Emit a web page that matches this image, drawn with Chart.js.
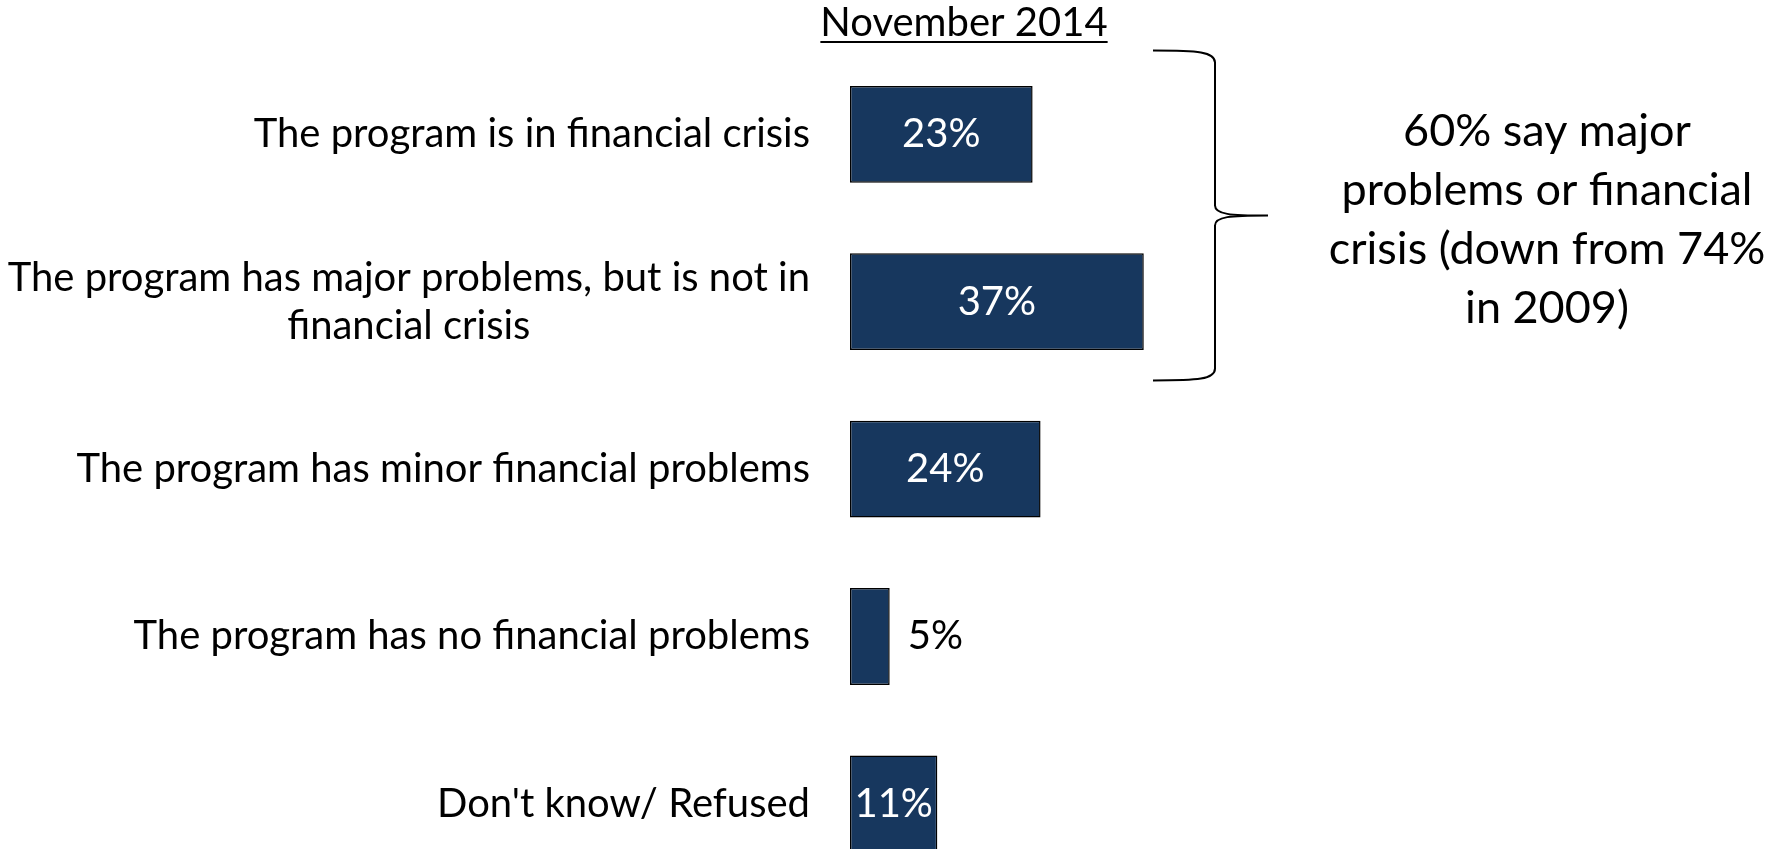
<!DOCTYPE html>
<html>
<head>
<meta charset="utf-8">
<script src="https://cdn.jsdelivr.net/npm/chart.js@4.4.0/dist/chart.umd.min.js"></script>
<style>
  html, body { margin: 0; padding: 0; background: #fff; overflow: hidden; }
  canvas { display: block; }
</style>
</head>
<body>
<canvas id="survey-chart" width="1783" height="900"></canvas>
<script>
// Survey answers, one bar per answer
const categories = [
    ['The program is in financial crisis'],
    ['The program has major problems, but is not in', 'financial crisis'],
    ['The program has minor financial problems'],
    ['The program has no financial problems'],
    ["Don't know/ Refused"]
];
const shares = [23, 37, 24, 5, 11];
const valueLabels = ['23%', '37%', '24%', '5%', '11%'];
const headerText = 'November 2014';
const noteLines = ['60% say major', 'problems or financial', 'crisis (down from 74%', 'in 2009)'];

const FONT = 'Lato, "Open Sans", sans-serif';
const LABEL_SIZE = 40;
const NOTE_SIZE = 45;
const BAR_COLOR = '#17375E';

// Answer text to the left of each bar, lines centred inside a right-aligned block
const categoryLabels = {
    id: 'categoryLabels',
    afterDatasetsDraw(chart) {
        const ctx = chart.ctx;
        const yScale = chart.scales.y;
        const right = chart.chartArea.left - 40;
        const lineGap = 48;
        ctx.save();
        ctx.font = `${LABEL_SIZE}px ${FONT}`;
        ctx.fillStyle = '#000';
        ctx.textAlign = 'center';
        ctx.textBaseline = 'middle';
        chart.data.labels.forEach((lines, i) => {
            const y = yScale.getPixelForValue(i);
            const blockW = Math.max(...lines.map(l => ctx.measureText(l).width));
            const cx = right - blockW / 2;
            lines.forEach((line, j) => {
                ctx.fillText(line, cx, y + (j - (lines.length - 1) / 2) * lineGap);
            });
        });
        ctx.restore();
    }
};

// Percent labels: white inside wide bars, black beside narrow ones
const valueText = {
    id: 'valueText',
    afterDatasetsDraw(chart) {
        const ctx = chart.ctx;
        const meta = chart.getDatasetMeta(0);
        ctx.save();
        ctx.font = `${LABEL_SIZE}px ${FONT}`;
        ctx.textBaseline = 'middle';
        meta.data.forEach((bar, i) => {
            const text = valueLabels[i];
            const tw = ctx.measureText(text).width;
            const barW = bar.x - bar.base;
            if (barW > tw + 8) {
                ctx.fillStyle = '#fff';
                ctx.textAlign = 'center';
                ctx.fillText(text, (bar.x + bar.base) / 2, bar.y);
            } else {
                ctx.fillStyle = '#000';
                ctx.textAlign = 'left';
                ctx.fillText(text, bar.x + 18, bar.y);
            }
        });
        ctx.restore();
    }
};

// Underlined date heading above the bars
const header = {
    id: 'header',
    afterDraw(chart) {
        const ctx = chart.ctx;
        const cx = 964;
        const baseline = 36;
        ctx.save();
        ctx.font = `${LABEL_SIZE}px ${FONT}`;
        ctx.fillStyle = '#000';
        ctx.textAlign = 'center';
        ctx.textBaseline = 'alphabetic';
        ctx.fillText(headerText, cx, baseline);
        const w = ctx.measureText(headerText).width;
        ctx.fillRect(cx - w / 2, baseline + 5, w, 2);
        ctx.restore();
    }
};

// Curly brace grouping the first two answers, with the note beside it
const braceNote = {
    id: 'braceNote',
    afterDraw(chart) {
        const ctx = chart.ctx;
        const yScale = chart.scales.y;
        const step = yScale.getPixelForValue(1) - yScale.getPixelForValue(0);
        const top = yScale.getPixelForValue(0) - step * 0.5;
        const bottom = yScale.getPixelForValue(1) + step * 0.47;
        const mid = (top + bottom) / 2;
        const x0 = 1153, xv = 1215, xt = 1268;

        ctx.save();
        ctx.strokeStyle = '#000';
        ctx.lineWidth = 2;
        ctx.beginPath();
        ctx.moveTo(x0, top);
        ctx.bezierCurveTo(x0 + 45, top, xv, top + 1, xv, top + 12);
        ctx.lineTo(xv, mid - 10);
        ctx.bezierCurveTo(xv, mid - 1, xv + 15, mid, xt, mid);
        ctx.moveTo(xt, mid);
        ctx.bezierCurveTo(xv + 15, mid, xv, mid + 1, xv, mid + 10);
        ctx.lineTo(xv, bottom - 12);
        ctx.bezierCurveTo(xv, bottom - 1, x0 + 45, bottom, x0, bottom);
        ctx.stroke();

        ctx.font = `${NOTE_SIZE}px ${FONT}`;
        ctx.fillStyle = '#000';
        ctx.textAlign = 'center';
        ctx.textBaseline = 'middle';
        const gap = 59;
        noteLines.forEach((line, j) => {
            ctx.fillText(line, 1547, mid + 4 + (j - (noteLines.length - 1) / 2) * gap);
        });
        ctx.restore();
    }
};

const ctx = document.getElementById('survey-chart').getContext('2d');
new Chart(ctx, {
    type: 'bar',
    data: {
        labels: categories,
        datasets: [{
            data: shares,
            backgroundColor: BAR_COLOR,
            borderColor: '#000',
            borderWidth: 1.5,
            borderSkipped: false,
            barPercentage: 0.578,
            categoryPercentage: 1
        }]
    },
    options: {
        indexAxis: 'y',
        responsive: false,
        animation: false,
        devicePixelRatio: 1,
        layout: {
            padding: { left: 850, right: 139, top: 50.6, bottom: 12.4 }
        },
        plugins: {
            legend: { display: false },
            tooltip: { enabled: false }
        },
        scales: {
            x: { display: false, min: 0, max: 100 },
            y: { display: false }
        }
    },
    plugins: [categoryLabels, valueText, header, braceNote]
});
</script>
</body>
</html>
